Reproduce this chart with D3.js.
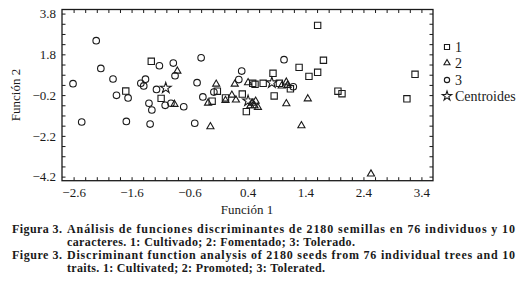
<!DOCTYPE html>
<html>
<head>
<meta charset="utf-8">
<script src="https://cdn.jsdelivr.net/npm/d3@7"></script>
<style>
  body { margin: 0; background: #fff; }
  svg { display: block; font-family: "Liberation Serif", "DejaVu Serif", serif; }
</style>
</head>
<body>
<svg id="chart" width="527" height="297"></svg>
<script>
// 1: Cultivado (squares)
var cultX = [-1.70, -1.26, -1.09, -0.12, -0.21, 0.02, 0.31, 0.49, 0.53, 0.67, 0.84, 0.86,
             0.95, 1.14, 0.38, 1.29, 1.46, 1.61, 1.71, 1.61, 1.96, 2.03, 3.29, 3.15];
var cultY = [0.00, 1.46, -0.36, -0.01, -0.50, -0.34, -0.15, 0.38, 0.33, 0.38, 0.87, -0.24,
             0.38, 0.11, -1.01, 1.16, 0.72, 0.92, 1.51, 3.22, -0.01, -0.13, 0.82, -0.38];

// 2: Fomentado (triangles)
var fomX = [-0.81, -0.86, -0.14, 0.18, 0.41, 0.99, 1.07, 1.09, -0.28, 0.13, 0.02,
            0.20, 0.48, 0.54, 0.45, 0.52, 0.58, 1.07, 1.44, -0.24, 1.33, 2.53];
var fomY = [0.98, -0.65, 0.34, 0.34, 0.41, 0.25, 0.44, 0.28, -0.59, -0.20, -0.46,
            -0.44, -0.60, -0.50, -0.72, -0.72, -0.80, -0.62, -0.38, -1.75, -1.70, -4.07];

// 3: Tolerado (circles)
var tolX = [-2.21, -2.13, -2.61, -1.92, -1.86, -1.66, -2.46, -1.69, -1.12, -0.88, -0.85,
            -1.36, -1.44, -1.39, -1.17, -1.30, -1.25, -1.02, -0.92, -0.70, -1.28, -0.40,
            1.03, 0.30, -0.47, 0.25, -0.18, -0.37, -0.51, 1.19];
var tolY = [2.47, 1.11, 0.36, 0.59, -0.21, -0.34, -1.52, -1.49, 1.24, 1.37, 0.75,
            0.58, 0.38, 0.25, 0.08, -0.60, -0.93, -0.70, -0.60, -0.77, -1.62, 1.63,
            1.54, 0.98, 0.41, 0.56, -0.05, -0.29, -1.58, 0.21];

// centroides (3, 1, 2)
var centX = [-1.01, 0.82, 0.41];
var centY = [0.15, 0.41, -0.48];

var xLabels = [-2.6, -1.6, -0.6, 0.4, 1.4, 2.4, 3.4];
var yLabels = [3.8, 1.8, -0.2, -2.2, -4.2];
var legendNames = ["1", "2", "3", "Centroides"];
var captionEs = ["Figura 3.", "Análisis de funciones discriminantes de 2180 semillas en 76 individuos y 10",
                 "caracteres. 1: Cultivado; 2: Fomentado; 3: Tolerado."];
var captionEn = ["Figure 3.", "Discriminant function analysis of 2180 seeds from 76 individual trees and 10",
                 "traits. 1: Cultivated; 2: Promoted; 3: Tolerated."];

var svg = d3.select("#chart");
var ink = "#1a1a1a";

var x = d3.scaleLinear().domain([-2.8, 3.6]).range([62, 433]);
var y = d3.scaleLinear().domain([-4.4, 4.0]).range([180.7, 9.5]);

var xTicks = d3.range(0, 31).map(i => +(-2.6 + i * 0.2).toFixed(1));
var yTicks = d3.range(0, 17).map(i => +(-4.2 + i * 0.5).toFixed(1));
var fmt = d3.format(".1f");

function isLabel(list, v) { return list.some(l => Math.abs(l - v) < 1e-6); }

var tick = 3.5;

svg.append("g").attr("transform", "translate(0,180.7)")
  .call(d3.axisBottom(x).tickValues(xTicks).tickSizeInner(-tick).tickSizeOuter(0)
    .tickPadding(7).tickFormat(d => isLabel(xLabels, d) ? fmt(d) : ""));
svg.append("g").attr("transform", "translate(0,9.5)")
  .call(d3.axisTop(x).tickValues(xTicks).tickSizeInner(-tick).tickSizeOuter(0).tickFormat(""));
svg.append("g").attr("transform", "translate(62,0)")
  .call(d3.axisLeft(y).tickValues(yTicks).tickSizeInner(-tick).tickSizeOuter(0)
    .tickPadding(6).tickFormat(d => isLabel(yLabels, d) ? fmt(d) : ""));
svg.append("g").attr("transform", "translate(433,0)")
  .call(d3.axisRight(y).tickValues(yTicks).tickSizeInner(-tick).tickSizeOuter(0).tickFormat(""));

svg.selectAll(".domain").remove();
svg.selectAll(".tick line").attr("stroke", ink).attr("stroke-width", 1);
svg.selectAll(".tick text").attr("fill", ink).style("font-size", "13px")
  .style("font-family", "'Liberation Serif', serif");

svg.append("rect")
  .attr("x", 62).attr("y", 9.5).attr("width", 433 - 62).attr("height", 180.7 - 9.5)
  .attr("fill", "none").attr("stroke", ink).attr("stroke-width", 1.3);

// axis titles
svg.append("text").attr("x", 247).attr("y", 214).attr("text-anchor", "middle")
  .attr("fill", ink).style("font-size", "13px").text("Función 1");
svg.append("text").attr("transform", "translate(20,95) rotate(-90)").attr("text-anchor", "middle")
  .attr("fill", ink).style("font-size", "13px").text("Función 2");

// points
var sym = {
  sq: d3.symbol().type(d3.symbolSquare).size(40),
  tri: d3.symbol().type(d3.symbolTriangle).size(22),
  circ: d3.symbol().type(d3.symbolCircle).size(34),
  star: d3.symbol().type(d3.symbolStar).size(36)
};

function drawSet(xs, ys, gen) {
  svg.append("g").selectAll("path")
    .data(xs.map((v, i) => [v, ys[i]]))
    .join("path")
      .attr("d", gen())
      .attr("transform", d => `translate(${x(d[0])},${y(d[1])})`)
      .attr("fill", "none")
      .attr("stroke", ink)
      .attr("stroke-width", 1.1);
}

drawSet(tolX, tolY, sym.circ);
drawSet(fomX, fomY, sym.tri);
drawSet(cultX, cultY, sym.sq);
drawSet(centX, centY, sym.star);

// legend
var legSyms = [
  d3.symbol().type(d3.symbolSquare).size(26),
  d3.symbol().type(d3.symbolTriangle).size(16),
  d3.symbol().type(d3.symbolCircle).size(22),
  d3.symbol().type(d3.symbolStar).size(28)
];
var legY = [47, 63, 80, 96];
var leg = svg.append("g").selectAll("g").data(legendNames).join("g")
  .attr("transform", (d, i) => `translate(447,${legY[i]})`);
leg.append("path").attr("d", (d, i) => legSyms[i]())
  .attr("fill", "none").attr("stroke", ink).attr("stroke-width", 1.1);
leg.append("text").attr("x", 8).attr("dy", "0.35em").attr("fill", ink)
  .style("font-size", "14px").text(d => d);

// caption: 12px bold, lines stretched to the widths seen in the figure
var cap = svg.append("g").attr("fill", ink).style("font-weight", "bold").style("font-size", "12px");
function capBlock(lines, y0, endLast) {
  cap.append("text").attr("x", 12).attr("y", y0)
    .attr("textLength", 50).attr("lengthAdjust", "spacing").text(lines[0]);
  cap.append("text").attr("x", 67).attr("y", y0)
    .attr("textLength", 515 - 67).attr("lengthAdjust", "spacing").text(lines[1]);
  cap.append("text").attr("x", 67).attr("y", y0 + 13.3)
    .attr("textLength", endLast - 67).attr("lengthAdjust", "spacing").text(lines[2]);
}
capBlock(captionEs, 232.5, 355);
capBlock(captionEn, 259.1, 325);
</script>
</body>
</html>
